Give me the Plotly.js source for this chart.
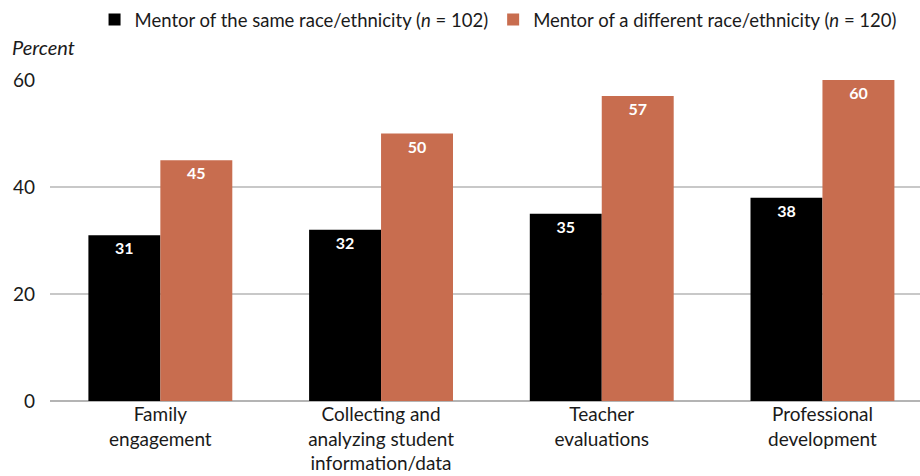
<!DOCTYPE html>
<html>
<head>
<meta charset="utf-8">
<script src="https://cdn.plot.ly/plotly-3.0.1.min.js"></script>
<style>html,body{margin:0;padding:0;background:#fff}#chart{width:920px;height:476px}</style>
</head>
<body>
<div id="chart"></div>
<script>
const categories = ["Family<br>engagement", "Collecting and<br>analyzing student<br>information/data", "Teacher<br>evaluations", "Professional<br>development"];
const sameRace = [31, 32, 35, 38];
const diffRace = [45, 50, 57, 60];
const seriesNames = ["Mentor of the same race/ethnicity (<i>n</i> = 102)", "Mentor of a different race/ethnicity (<i>n</i> = 120)"];
const yTicks = [0, 20, 40, 60];

const FONT = "Lato, 'Noto Sans', sans-serif";
const labelFont = {family: FONT, size: 16, color: "#ffffff", weight: 700};

const traces = [
  {type: "bar", name: seriesNames[0], x: categories, y: sameRace, marker: {color: "#000000"},
   text: sameRace.map(String), textposition: "inside", insidetextanchor: "end", textfont: labelFont,
   constraintext: "none", hoverinfo: "none"},
  {type: "bar", name: seriesNames[1], x: categories, y: diffRace, marker: {color: "#C86D4F"},
   text: diffRace.map(String), textposition: "inside", insidetextanchor: "end", textfont: labelFont,
   constraintext: "none", hoverinfo: "none"}
];

const layout = {
  width: 920, height: 476,
  margin: {l: 50, r: 0, t: 80, b: 75, autoexpand: false},
  paper_bgcolor: "#ffffff", plot_bgcolor: "#ffffff",
  font: {family: FONT, size: 19, color: "#1a1a1a"},
  barmode: "group", bargap: 0.348, bargroupgap: 0,
  showlegend: true,
  legend: {orientation: "h", x: 0.515, xanchor: "center", y: 1.187, yanchor: "middle",
           font: {family: FONT, size: 18.5, color: "#1a1a1a"}, itemwidth: 30, traceorder: "normal"},
  xaxis: {type: "category", range: [-0.5, 3.442], showgrid: false, zeroline: false,
          showline: false, ticks: "", tickfont: {family: FONT, size: 19, color: "#1a1a1a"}},
  yaxis: {range: [0, 60], tickvals: yTicks, ticktext: yTicks.map(String), showgrid: true,
          gridcolor: "#c8c8c8", gridwidth: 1.5, zeroline: true, zerolinecolor: "#b4b4b4", zerolinewidth: 1.5,
          showline: false, ticks: "", ticklabelstandoff: 14,
          tickfont: {family: FONT, size: 19, color: "#1a1a1a"}},
  annotations: [{text: "<i>Percent</i>", xref: "paper", yref: "paper", x: -0.0457, y: 1.103,
                 xanchor: "left", yanchor: "middle", showarrow: false,
                 font: {family: FONT, size: 20, color: "#1a1a1a"}}]
};

Plotly.newPlot("chart", traces, layout, {displayModeBar: false, staticPlot: true});
</script>
</body>
</html>
